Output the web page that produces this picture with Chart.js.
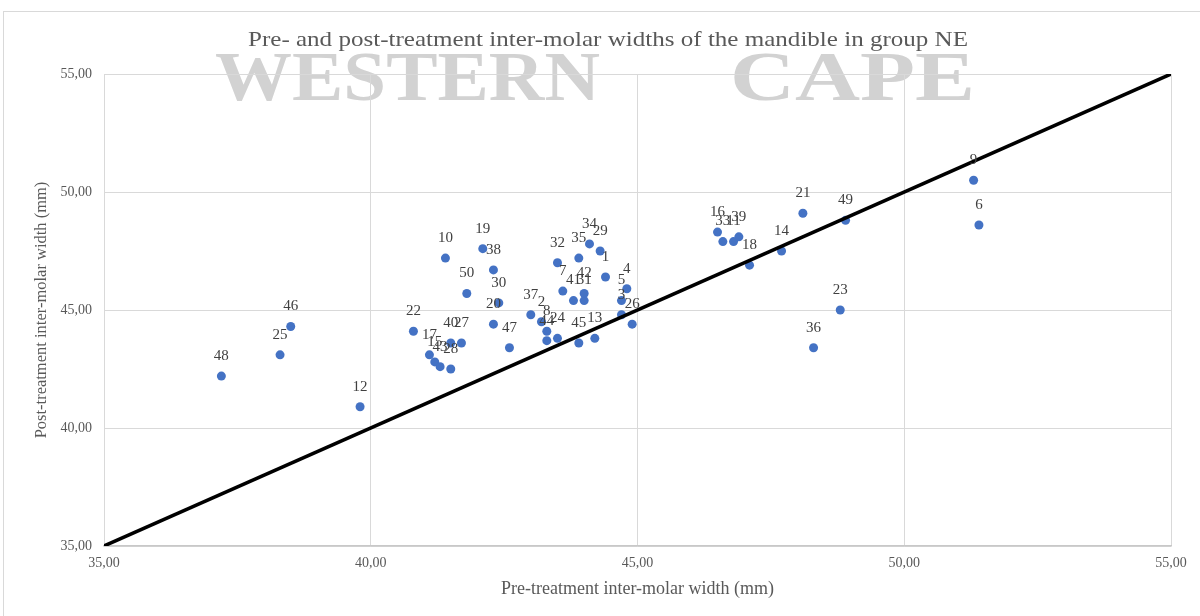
<!DOCTYPE html>
<html>
<head>
<meta charset="utf-8">
<script src="https://cdn.jsdelivr.net/npm/chart.js@4.4.0/dist/chart.umd.min.js"></script>
<style>
  html, body { margin: 0; padding: 0; background: #ffffff; }
</style>
</head>
<body>
<canvas id="graph" width="1200" height="616"></canvas>
<script>
// point numbers, pre-treatment (x) and post-treatment (y) widths in mm
const pointLabels = ['1','2','3','4','5','6','7','8','9','10','11','12','13','14','15','16','17','18','19','20',
  '21','22','23','24','25','26','27','28','29','30','31','32','33','34','35','36','37','38','39','40',
  '41','42','43','44','45','46','47','48','49','50'];
const preWidth = [44.4, 43.2, 44.7, 44.8, 44.7, 51.4, 43.6, 43.3, 51.3, 41.4,
  46.8, 39.8, 44.2, 47.7, 41.2, 46.5, 41.1, 47.1, 42.1, 42.3,
  48.1, 40.8, 48.8, 43.5, 38.3, 44.9, 41.7, 41.5, 44.3, 42.4,
  44.0, 43.5, 46.6, 44.1, 43.9, 48.3, 43.0, 42.3, 46.9, 41.5,
  43.8, 44.0, 41.3, 43.3, 43.9, 38.5, 42.6, 37.2, 48.9, 41.8];
const postWidth = [46.4, 44.5, 44.8, 45.9, 45.4, 48.6, 45.8, 44.1, 50.5, 47.2,
  47.9, 40.9, 43.8, 47.5, 42.8, 48.3, 43.1, 46.9, 47.6, 44.4,
  49.1, 44.1, 45.0, 43.8, 43.1, 44.4, 43.6, 42.5, 47.5, 45.3,
  45.4, 47.0, 47.9, 47.8, 47.2, 43.4, 44.8, 46.7, 48.1, 43.6,
  45.4, 45.7, 42.6, 43.7, 43.6, 44.3, 43.4, 42.2, 48.8, 45.7];

// line of no change (post = pre)
const lineX = [35, 55];
const lineY = [35, 55];

const axisMin = 35;
const axisMax = 55;
const axisStep = 5;

const chartTitle = 'Pre- and post-treatment inter-molar widths of the mandible in group NE';
const xTitle = 'Pre-treatment inter-molar width (mm)';
const yTitle = 'Post-treatment inter-molar width (mm)';

const serif = '"Liberation Serif", "Times New Roman", serif';

// text squeezed/stretched to a given width (the scan is a bit wide)
function wideText(ctx, text, left, baseline, width) {
  const mw = ctx.measureText(text).width;
  ctx.save();
  ctx.translate(left, baseline);
  ctx.scale(width / mw, 1);
  ctx.fillText(text, 0, 0);
  ctx.restore();
}

// background: frame, scanned watermark and the chart title
const backdrop = {
  id: 'backdrop',
  beforeDraw(chart) {
    const ctx = chart.ctx;
    ctx.save();
    ctx.fillStyle = '#ffffff';
    ctx.fillRect(0, 0, chart.width, chart.height);
    ctx.strokeStyle = '#d9d9d9';
    ctx.lineWidth = 1;
    ctx.strokeRect(3.5, 11.5, chart.width + 10, chart.height + 10);

    ctx.fillStyle = '#d2d2d2';
    ctx.font = 'bold 70px ' + serif;
    ctx.textAlign = 'left';
    ctx.textBaseline = 'alphabetic';
    wideText(ctx, 'WESTERN', 215, 100, 385);
    wideText(ctx, 'CAPE', 730, 100, 245);
    ctx.restore();
  },
  afterDraw(chart) {
    const ctx = chart.ctx;
    ctx.save();
    ctx.fillStyle = '#595959';
    ctx.font = '22px ' + serif;
    ctx.textAlign = 'left';
    ctx.textBaseline = 'middle';
    wideText(ctx, chartTitle, 248, 40, 720);
    ctx.restore();
  }
};

// number written above each point
const pointNumbers = {
  id: 'pointNumbers',
  afterDatasetsDraw(chart) {
    const meta = chart.getDatasetMeta(1);
    const ctx = chart.ctx;
    ctx.save();
    ctx.font = '15px ' + serif;
    ctx.fillStyle = '#404040';
    ctx.textAlign = 'center';
    ctx.textBaseline = 'middle';
    meta.data.forEach((pt, i) => {
      ctx.fillText(pointLabels[i], pt.x, pt.y - 20);
    });
    ctx.restore();
  }
};

const fmt = v => v.toFixed(2).replace('.', ',');

new Chart(document.getElementById('graph'), {
  type: 'scatter',
  data: {
    datasets: [{
      type: 'line',
      data: lineX.map((x, i) => ({ x: x, y: lineY[i] })),
      borderColor: '#000000',
      borderWidth: 3.5,
      pointRadius: 0,
      fill: false
    }, {
      data: preWidth.map((x, i) => ({ x: x, y: postWidth[i] })),
      backgroundColor: '#4472C4',
      borderColor: '#4472C4',
      pointRadius: 4.5,
      borderWidth: 0
    }]
  },
  options: {
    responsive: false,
    animation: false,
    devicePixelRatio: 1,
    layout: { padding: { left: 0, right: 29, top: 74, bottom: 0 } },
    plugins: {
      legend: { display: false },
      title: { display: false },
      tooltip: { enabled: false }
    },
    scales: {
      x: {
        type: 'linear',
        min: axisMin,
        max: axisMax,
        afterFit: s => { s.height = 70; },
        ticks: {
          stepSize: axisStep,
          padding: 9,
          color: '#595959',
          font: { family: serif, size: 14 },
          callback: fmt,
          maxRotation: 0
        },
        grid: { color: '#d9d9d9', drawTicks: false },
        border: { color: '#c8c8c8', width: 1.5 },
        title: {
          display: true,
          text: xTitle,
          color: '#595959',
          font: { family: serif, size: 18 },
          padding: { top: 0, bottom: 16 }
        }
      },
      y: {
        type: 'linear',
        min: axisMin,
        max: axisMax,
        afterFit: s => { s.width = 104; },
        ticks: {
          stepSize: axisStep,
          padding: 12,
          color: '#595959',
          font: { family: serif, size: 14 },
          callback: fmt
        },
        grid: { color: '#d9d9d9', drawTicks: false },
        border: { display: false },
        title: {
          display: true,
          text: yTitle,
          color: '#595959',
          font: { family: serif, size: 16.5 },
          padding: { top: 32, bottom: 0 }
        }
      }
    }
  },
  plugins: [backdrop, pointNumbers]
});
</script>
</body>
</html>
